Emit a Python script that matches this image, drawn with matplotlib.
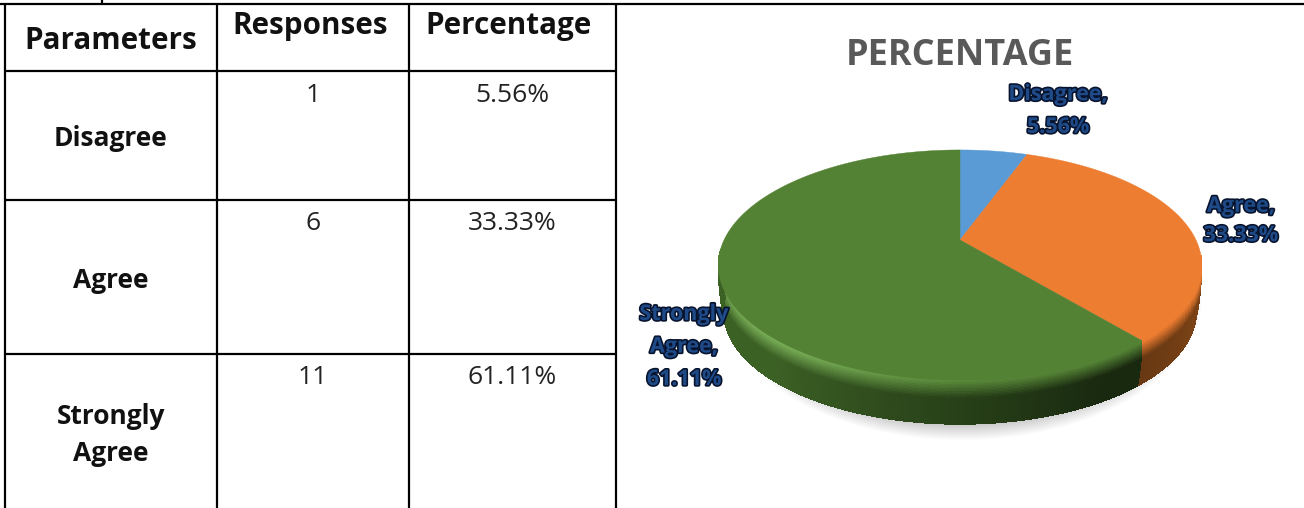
import numpy as np
import matplotlib
matplotlib.use("Agg")
import matplotlib.pyplot as plt
import matplotlib.patheffects as pe
from matplotlib.collections import PolyCollection
from matplotlib.patches import Ellipse

# ---- data ----
headers = ["Parameters", "Responses", "Percentage"]
categories = ["Disagree", "Agree", "Strongly\nAgree"]
responses = [1, 6, 11]
percentages = [5.56, 33.33, 61.11]
chart_title = "PERCENTAGE"
slice_colors = ["#5b9bd5", "#ed7d31", "#548235"]
side_colors = ["#3f6f9c", "#7a4216", "#3c6125"]

W, H = 1304, 508
fig = plt.figure(figsize=(W / 100, H / 100), dpi=100, facecolor="white")
ax = fig.add_axes([0, 0, 1, 1])
ax.set_xlim(0, W)
ax.set_ylim(H, 0)
ax.axis("off")

# ---- table ----
TF = "Open Sans"
col_x = [5, 217, 409, 616]
row_y = [4, 71, 200, 354, 508]
line_kw = dict(color="black", lw=1.6, solid_capstyle="butt", zorder=5)
for x in col_x:
    ax.plot([x, x], [row_y[0], row_y[-1]], **line_kw)
for y in row_y[1:-1]:
    ax.plot([col_x[0], col_x[-1]], [y, y], **line_kw)
ax.plot([0, W], [row_y[0], row_y[0]], **line_kw)
ax.plot([102, 102], [0, row_y[0]], **line_kw)

hs = 21.3
ax.text(111, 41, headers[0], ha="center", va="center", family=TF, weight="bold", size=hs, color="#111111")
ax.text(310, 26, headers[1], ha="center", va="center", family=TF, weight="bold", size=hs, color="#111111")
ax.text(508, 26, headers[2], ha="center", va="center", family=TF, weight="bold", size=hs, color="#111111")

cat_y = [139, 281, 435]
val_y = [95, 223, 377]
for c, r, p, cy, vy in zip(categories, responses, percentages, cat_y, val_y):
    ax.text(111, cy, c, ha="center", va="center", family=TF, weight="bold", size=19,
            color="#111111", linespacing=1.45)
    ax.text(313, vy, str(r), ha="center", va="center", family=TF, size=19, color="#222222")
    ax.text(512, vy, f"{p:.2f}%", ha="center", va="center", family=TF, size=19, color="#222222")

# ---- 3D pie (perspective projection of a unit circle) ----
cx, cy0, a, b, k = 960, 240, 236, 109.6, 0.217
depth = 47


def project(theta, r=1.0):
    x = r * np.sin(theta)
    y = r * np.cos(theta)
    w = 1 + k * y
    return cx + a * x / w, cy0 - b * y / w


# shadow
for i in range(14):
    ax.add_patch(Ellipse((cx + 2, 297), 2 * (240 - i * 1.5), 2 * (143 - i * 1.2),
                         fc="black", ec="none", alpha=0.014, zorder=1))

fr = np.array(percentages) / sum(percentages)
edges = np.concatenate([[0], np.cumsum(fr)]) * 2 * np.pi


def mix(c1, c2, t):
    c1, c2 = np.array(matplotlib.colors.to_rgb(c1)), np.array(matplotlib.colors.to_rgb(c2))
    return tuple(c1 + (c2 - c1) * np.clip(t, 0, 1))


# side wall
th_grid = np.radians(np.arange(98, 266, 1.0))
d_grid = np.arange(0, depth + 1.5, 1.5)
polys, cols = [], []
for t0, t1 in zip(th_grid[:-1], th_grid[1:]):
    tm = (t0 + t1) / 2
    idx = int(np.searchsorted(edges, tm) - 1)
    base = side_colors[idx]
    deg = np.degrees(tm)
    if idx == 2:
        horiz = 0.42 + 0.68 * np.clip((deg - 150) / 85, 0, 1)
        glow = np.exp(-((deg - 222) / 30) ** 2)
    else:
        horiz = 0.85 + 0.25 * np.clip((140 - deg) / 40, 0, 1)
        glow = 0.0
    wall = mix("#000000", base, horiz)
    for d0, d1 in zip(d_grid[:-1], d_grid[1:]):
        s0, s1 = 1 - 0.02 * (d0 / depth) ** 2, 1 - 0.02 * (d1 / depth) ** 2
        xa, ya = project(t0, s0)
        xb, yb = project(t1, s0)
        xc, yc = project(t1, s1)
        xd, yd = project(t0, s1)
        polys.append([(xa, ya + d0), (xb, yb + d0), (xc, yc + d1), (xd, yd + d1)])
        dm = (d0 + d1) / 2
        top = slice_colors[idx]
        if idx == 2:
            top = mix(top, "#76ab55", glow)
        cols.append(mix(top, wall, (dm - 2) / 17))
ax.add_collection(PolyCollection(polys, facecolors=cols, edgecolors="none", linewidths=0, antialiaseds=False, zorder=2))

# top face
for e0, e1, col in zip(edges[:-1], edges[1:], slice_colors):
    ts = np.linspace(e0, e1, 200)
    px, py = project(ts)
    ax.fill(np.r_[cx, px], np.r_[cy0, py], color=col, lw=0.3, zorder=3)

# chart title
ax.text(960, 56, chart_title, ha="center", va="center", family="Open Sans", weight="bold",
        size=26, color="#595959", zorder=6)

# data labels
label_pos = [(1058, 111), (1241, 221), (684, 347)]
label_spacing = [1.72, 1.52, 1.72]
for c, p, (lx, ly), ls in zip(categories, percentages, label_pos, label_spacing):
    ax.text(lx, ly, f"{c},\n{p:.2f}%", ha="center", va="center",
            family="Open Sans", weight="bold", size=15.5, color="#1f4a88", linespacing=ls, zorder=7,
            path_effects=[pe.withStroke(linewidth=2.4, foreground="#08142e")])

fig.savefig("out.png", dpi=100, facecolor="white")
